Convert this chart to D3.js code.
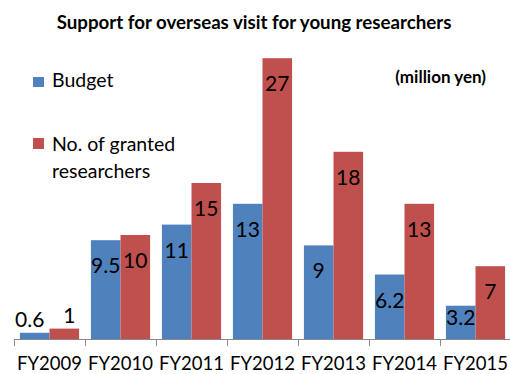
<!DOCTYPE html>
<html>
<head>
<meta charset="utf-8">
<script src="https://cdn.jsdelivr.net/npm/d3@7"></script>
<style>
  body { margin: 0; background: #fff; }
  svg { display: block; font-family: Lato, "Open Sans", sans-serif; }
</style>
</head>
<body>
<div id="chartContainer"></div>
<script>
// Data
const years = ["FY2009", "FY2010", "FY2011", "FY2012", "FY2013", "FY2014", "FY2015"];
const budget = [0.6, 9.5, 11, 13, 9, 6.2, 3.2];
const researchers = [1, 10, 15, 27, 18, 13, 7];
const seriesNames = ["Budget", "No. of granted researchers"];
const colors = ["#4F81BD", "#C0504D"];

const width = 510, height = 374;

const svg = d3.select("#chartContainer")
    .append("svg")
    .attr("width", width)
    .attr("height", height);

// Build rows for grouped bars
const keys = ["budget", "researchers"];
const rows = years.map((y, i) => ({ year: y, budget: budget[i], researchers: researchers[i] }));

// Scales
const x0 = d3.scaleBand()
    .domain(years)
    .range([14, 511])
    .padding(0);

const x1 = d3.scaleBand()
    .domain(keys)
    .range([0, x0.bandwidth()])
    .paddingInner(0)
    .paddingOuter(0.2);

const yScale = d3.scaleLinear()
    .domain([0, 30])
    .range([339, 27]);

const color = d3.scaleOrdinal().domain(keys).range(colors);

// Bars
const groups = svg.selectAll(".group")
    .data(rows)
    .enter()
    .append("g")
    .attr("class", "group")
    .attr("transform", d => "translate(" + x0(d.year) + ",0)");

groups.selectAll("rect")
    .data(d => keys.map(k => ({ key: k, value: d[k] })))
    .enter()
    .append("rect")
    .attr("x", d => x1(d.key))
    .attr("y", d => yScale(d.value))
    .attr("width", x1.bandwidth())
    .attr("height", d => yScale(0) - yScale(d.value))
    .attr("fill", d => color(d.key));

// Value labels: inside the top of the bar, pushed up when the bar is short
function labelY(v) {
    const top = yScale(v), h = yScale(0) - top;
    if (h >= 45) return top + 33;
    if (h >= 25) return yScale(0) - 14;
    return top - 6;
}
function labelX(d) {
    const c = x1(d.key) + x1.bandwidth() / 2;
    const h = yScale(0) - yScale(d.value);
    if (h >= 25) return c;
    return c + (d.key === "budget" ? -5 : 5);
}

groups.selectAll(".value")
    .data(d => keys.map(k => ({ key: k, value: d[k] })))
    .enter()
    .append("text")
    .attr("class", "value")
    .attr("x", d => labelX(d))
    .attr("y", d => labelY(d.value))
    .attr("text-anchor", "middle")
    .style("font-size", "21px")
    .style("fill", "#000")
    .text(d => d.value);

// X axis: line with ticks between categories
const axis = svg.append("g").attr("stroke", "#898989").attr("stroke-width", 1);
axis.append("line")
    .attr("x1", x0.range()[0]).attr("x2", x0.range()[1])
    .attr("y1", yScale(0) + 0.5).attr("y2", yScale(0) + 0.5);
axis.selectAll(".tick")
    .data(years.concat(["end"]))
    .enter()
    .append("line")
    .attr("x1", (d, i) => Math.round(x0.range()[0] + i * x0.step()) + 0.5)
    .attr("x2", (d, i) => Math.round(x0.range()[0] + i * x0.step()) + 0.5)
    .attr("y1", yScale(0))
    .attr("y2", yScale(0) + 7);

svg.selectAll(".xlabel")
    .data(years)
    .enter()
    .append("text")
    .attr("class", "xlabel")
    .attr("x", d => x0(d) + x0.bandwidth() / 2)
    .attr("y", 370)
    .attr("text-anchor", "middle")
    .style("font-size", "18.5px")
    .style("fill", "#000")
    .text(d => d);

// Title
svg.append("text")
    .attr("x", 254)
    .attr("y", 29)
    .attr("text-anchor", "middle")
    .style("font-size", "18.7px")
    .style("font-weight", "bold")
    .text("Support for overseas visit for young researchers");

// Unit note
svg.append("text")
    .attr("x", 486)
    .attr("y", 82.5)
    .attr("text-anchor", "end")
    .style("font-size", "17px")
    .style("font-weight", "bold")
    .text("(million yen)");

// Legend
const legend = svg.append("g");
legend.append("rect").attr("x", 33).attr("y", 77).attr("width", 11).attr("height", 10).attr("fill", colors[0]);
legend.append("text").attr("x", 52).attr("y", 87).style("font-size", "19.5px").text(seriesNames[0]);

legend.append("rect").attr("x", 33).attr("y", 138).attr("width", 11).attr("height", 11).attr("fill", colors[1]);
legend.append("text").attr("x", 52).attr("y", 151).style("font-size", "19.5px").text("No. of granted");
legend.append("text").attr("x", 52).attr("y", 177.5).style("font-size", "19.5px").text("researchers");
</script>
</body>
</html>
